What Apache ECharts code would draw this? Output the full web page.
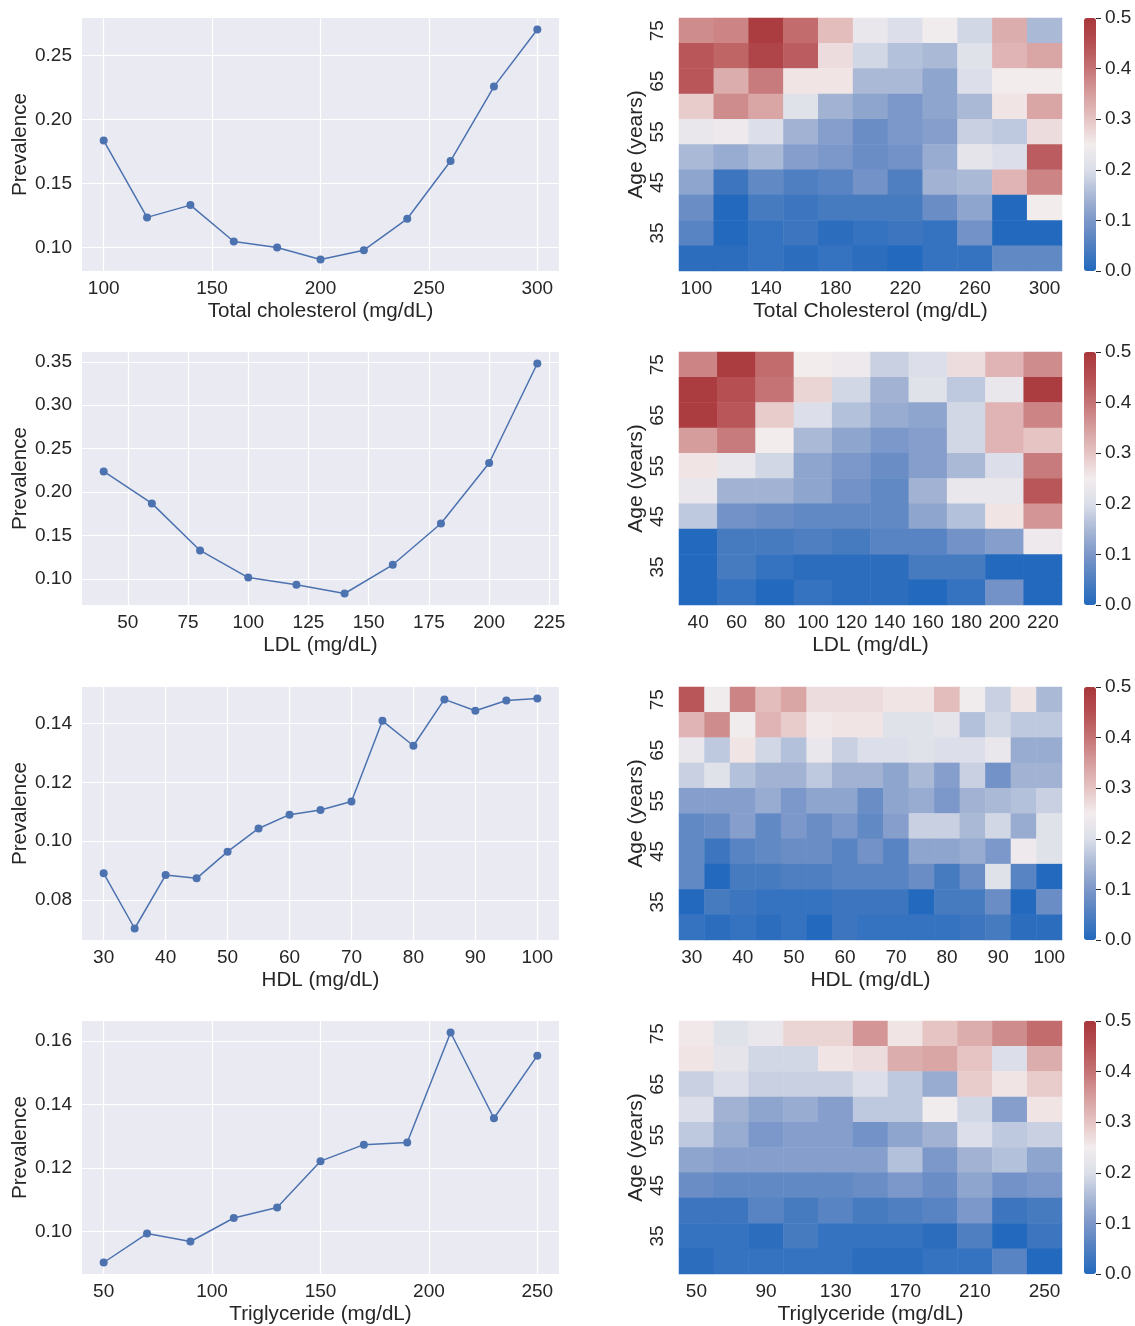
<!DOCTYPE html>
<html>
<head>
<meta charset="utf-8">
<script src="https://cdn.jsdelivr.net/npm/echarts@6/dist/echarts.min.js"></script>
<style>
  html, body { margin: 0; padding: 0; background: #fff; }
  #main { width: 1135px; height: 1326px; }
</style>
</head>
<body>
<div id="main"></div>
<script>
// ---- line charts: prevalence by lipid level ----
var tcX = [100, 120, 140, 160, 180, 200, 220, 240, 260, 280, 300]
var tcPrev = [0.1835, 0.1235, 0.1331, 0.1047, 0.1000, 0.0906, 0.0979, 0.1224, 0.1676, 0.2257, 0.2703]
var tcXTicks = [100, 150, 200, 250, 300]
var tcYTicks = [0.10, 0.15, 0.20, 0.25]

var ldlX = [40, 60, 80, 100, 120, 140, 160, 180, 200, 220]
var ldlPrev = [0.2238, 0.1869, 0.1327, 0.1015, 0.0931, 0.0831, 0.1162, 0.1638, 0.2335, 0.3481]
var ldlXTicks = [50, 75, 100, 125, 150, 175, 200, 225]
var ldlYTicks = [0.10, 0.15, 0.20, 0.25, 0.30, 0.35]

var hdlX = [30, 35, 40, 45, 50, 55, 60, 65, 70, 75, 80, 85, 90, 95, 100]
var hdlPrev = [0.0890, 0.0702, 0.0884, 0.0873, 0.0964, 0.1043, 0.1090, 0.1106, 0.1135, 0.1410, 0.1325, 0.1483, 0.1444, 0.1479, 0.1486]
var hdlXTicks = [30, 40, 50, 60, 70, 80, 90, 100]
var hdlYTicks = [0.08, 0.10, 0.12, 0.14]

var tgX = [50, 70, 90, 110, 130, 150, 170, 190, 210, 230, 250]
var tgPrev = [0.0903, 0.0994, 0.0969, 0.1043, 0.1076, 0.1222, 0.1274, 0.1281, 0.1627, 0.1357, 0.1554]
var tgXTicks = [50, 100, 150, 200, 250]
var tgYTicks = [0.10, 0.12, 0.14, 0.16]

// ---- heatmaps: prevalence by age (rows, top = 75) x lipid bin ----
var ages = ['75', '70', '65', '60', '55', '50', '45', '40', '35', '30']

var tcBins = ['100', '120', '140', '160', '180', '200', '220', '240', '260', '280', '300']
var tcHeat = [
  [0.37, 0.38, 0.49, 0.41, 0.31, 0.23, 0.20, 0.245, 0.19, 0.33, 0.15],
  [0.44, 0.42, 0.47, 0.43, 0.27, 0.19, 0.16, 0.15, 0.21, 0.32, 0.34],
  [0.44, 0.33, 0.39, 0.26, 0.26, 0.15, 0.15, 0.12, 0.20, 0.25, 0.25],
  [0.29, 0.37, 0.34, 0.21, 0.14, 0.12, 0.10, 0.12, 0.15, 0.26, 0.34],
  [0.23, 0.24, 0.20, 0.14, 0.11, 0.08, 0.10, 0.11, 0.18, 0.17, 0.27],
  [0.15, 0.13, 0.15, 0.11, 0.10, 0.08, 0.09, 0.13, 0.22, 0.20, 0.43],
  [0.12, 0.03, 0.07, 0.05, 0.06, 0.09, 0.05, 0.14, 0.15, 0.32, 0.38],
  [0.08, 0.00, 0.04, 0.03, 0.04, 0.04, 0.04, 0.08, 0.12, 0.00, 0.25],
  [0.06, 0.00, 0.02, 0.03, 0.01, 0.02, 0.03, 0.02, 0.09, 0.00, 0.00],
  [0.01, 0.01, 0.02, 0.01, 0.02, 0.01, 0.00, 0.02, 0.02, 0.07, 0.07]
]

var ldlBins = ['40', '60', '80', '100', '120', '140', '160', '180', '200', '220']
var ldlHeat = [
  [0.38, 0.49, 0.41, 0.25, 0.24, 0.18, 0.20, 0.27, 0.32, 0.37],
  [0.49, 0.45, 0.40, 0.28, 0.19, 0.14, 0.21, 0.17, 0.23, 0.49],
  [0.49, 0.44, 0.29, 0.20, 0.16, 0.13, 0.12, 0.19, 0.32, 0.38],
  [0.35, 0.39, 0.25, 0.15, 0.12, 0.10, 0.11, 0.19, 0.32, 0.30],
  [0.26, 0.23, 0.19, 0.12, 0.10, 0.08, 0.11, 0.15, 0.20, 0.39],
  [0.23, 0.14, 0.14, 0.12, 0.09, 0.07, 0.14, 0.23, 0.23, 0.44],
  [0.17, 0.09, 0.08, 0.07, 0.07, 0.07, 0.12, 0.16, 0.26, 0.36],
  [0.00, 0.04, 0.04, 0.05, 0.04, 0.06, 0.06, 0.09, 0.11, 0.24],
  [0.00, 0.04, 0.02, 0.01, 0.01, 0.01, 0.04, 0.04, 0.00, 0.00],
  [0.00, 0.02, 0.00, 0.02, 0.01, 0.01, 0.00, 0.02, 0.09, 0.00]
]

var hdlBins = ['30', '35', '40', '45', '50', '55', '60', '65', '70', '75', '80', '85', '90', '95', '100']
var hdlHeat = [
  [0.44, 0.245, 0.38, 0.31, 0.34, 0.27, 0.27, 0.27, 0.26, 0.26, 0.31, 0.245, 0.18, 0.26, 0.15],
  [0.32, 0.37, 0.245, 0.32, 0.29, 0.255, 0.26, 0.26, 0.21, 0.21, 0.22, 0.16, 0.19, 0.17, 0.17],
  [0.23, 0.17, 0.26, 0.19, 0.16, 0.23, 0.18, 0.20, 0.20, 0.21, 0.20, 0.20, 0.23, 0.13, 0.13],
  [0.18, 0.21, 0.16, 0.14, 0.14, 0.17, 0.14, 0.14, 0.12, 0.15, 0.11, 0.18, 0.09, 0.14, 0.14],
  [0.11, 0.11, 0.11, 0.13, 0.10, 0.12, 0.12, 0.08, 0.12, 0.13, 0.10, 0.14, 0.15, 0.16, 0.18],
  [0.07, 0.08, 0.11, 0.07, 0.10, 0.08, 0.10, 0.07, 0.11, 0.18, 0.18, 0.15, 0.19, 0.13, 0.21],
  [0.07, 0.03, 0.06, 0.07, 0.08, 0.08, 0.06, 0.09, 0.06, 0.12, 0.12, 0.13, 0.10, 0.24, 0.21],
  [0.07, 0.00, 0.04, 0.04, 0.05, 0.05, 0.06, 0.06, 0.06, 0.08, 0.04, 0.08, 0.21, 0.06, 0.00],
  [0.00, 0.04, 0.03, 0.02, 0.02, 0.02, 0.03, 0.03, 0.03, 0.00, 0.04, 0.04, 0.08, 0.00, 0.08],
  [0.02, 0.01, 0.02, 0.01, 0.02, 0.00, 0.03, 0.02, 0.02, 0.02, 0.02, 0.03, 0.04, 0.01, 0.01]
]

var tgBins = ['50', '70', '90', '110', '130', '150', '170', '190', '210', '230', '250']
var tgHeat = [
  [0.255, 0.21, 0.23, 0.28, 0.28, 0.36, 0.26, 0.30, 0.33, 0.37, 0.41],
  [0.26, 0.22, 0.19, 0.19, 0.26, 0.27, 0.33, 0.34, 0.30, 0.20, 0.33],
  [0.18, 0.20, 0.18, 0.18, 0.18, 0.20, 0.17, 0.13, 0.29, 0.26, 0.29],
  [0.20, 0.14, 0.12, 0.13, 0.11, 0.17, 0.17, 0.245, 0.19, 0.11, 0.26],
  [0.17, 0.13, 0.10, 0.11, 0.11, 0.09, 0.12, 0.14, 0.20, 0.17, 0.18],
  [0.12, 0.11, 0.11, 0.11, 0.11, 0.11, 0.16, 0.10, 0.14, 0.16, 0.12],
  [0.08, 0.07, 0.07, 0.07, 0.07, 0.08, 0.10, 0.08, 0.12, 0.09, 0.10],
  [0.03, 0.03, 0.06, 0.04, 0.06, 0.04, 0.05, 0.06, 0.10, 0.03, 0.04],
  [0.02, 0.02, 0.01, 0.04, 0.02, 0.02, 0.02, 0.01, 0.05, 0.00, 0.03],
  [0.01, 0.02, 0.02, 0.02, 0.02, 0.01, 0.01, 0.02, 0.02, 0.06, 0.00]
]

var cbTicks = [0, 0.1, 0.2, 0.3, 0.4, 0.5]

// ---- layout / style ----
var FONT = '"Liberation Sans", Arial, sans-serif'
var TXT = '#262626'
var rowTops = [18, 352, 687, 1021]
var plotH = 253
var vlag = ['#2369bd', '#4f7fc1', '#7c97c9', '#aab9d6', '#dcdfe9', '#f2eced', '#e6c4c4', '#d69d9d', '#c57374', '#b54f52', '#a9373b']

var panels = [
  { x: tcX, y: tcPrev, xt: tcXTicks, yt: tcYTicks, name: 'Total cholesterol (mg/dL)',
    bins: tcBins, heat: tcHeat, hname: 'Total Cholesterol (mg/dL)', every: 2 },
  { x: ldlX, y: ldlPrev, xt: ldlXTicks, yt: ldlYTicks, name: 'LDL (mg/dL)',
    bins: ldlBins, heat: ldlHeat, hname: 'LDL (mg/dL)', every: 1 },
  { x: hdlX, y: hdlPrev, xt: hdlXTicks, yt: hdlYTicks, name: 'HDL (mg/dL)',
    bins: hdlBins, heat: hdlHeat, hname: 'HDL (mg/dL)', every: 2 },
  { x: tgX, y: tgPrev, xt: tgXTicks, yt: tgYTicks, name: 'Triglyceride (mg/dL)',
    bins: tgBins, heat: tgHeat, hname: 'Triglyceride (mg/dL)', every: 2 }
]

// matplotlib-style 5% autoscale margin
function pad(arr) {
  var lo = Math.min.apply(null, arr), hi = Math.max.apply(null, arr)
  var m = (hi - lo) * 0.05
  return [lo - m, hi + m]
}

var grid = [], xAxis = [], yAxis = [], series = [], visualMap = []

panels.forEach(function (p, k) {
  var top = rowTops[k]
  var xr = pad(p.x), yr = pad(p.y)
  var g0 = grid.length

  // line chart
  grid.push({ left: 82, top: top, width: 477, height: plotH, show: true,
    backgroundColor: '#eaeaf2', borderWidth: 0 })
  xAxis.push({
    type: 'value', gridIndex: g0, min: xr[0], max: xr[1],
    name: p.name, nameLocation: 'middle', nameGap: 30,
    nameTextStyle: { fontFamily: FONT, fontSize: 20.6, color: TXT },
    axisLine: { show: false },
    axisTick: { show: false, customValues: p.xt },
    axisLabel: { customValues: p.xt, fontFamily: FONT, fontSize: 19, color: TXT, margin: 8 },
    splitLine: { show: true, lineStyle: { color: '#ffffff', width: 1.2 } }
  })
  yAxis.push({
    type: 'value', gridIndex: g0, min: yr[0], max: yr[1],
    name: 'Prevalence', nameLocation: 'middle', nameGap: 50, nameRotate: 90,
    nameTextStyle: { fontFamily: FONT, fontSize: 20.6, color: TXT },
    axisLine: { show: false },
    axisTick: { show: false, customValues: p.yt },
    axisLabel: { customValues: p.yt, fontFamily: FONT, fontSize: 19, color: TXT, margin: 10,
      formatter: function (v) { return v.toFixed(2) } },
    splitLine: { show: true, lineStyle: { color: '#ffffff', width: 1.2 } }
  })
  series.push({
    type: 'line', xAxisIndex: g0, yAxisIndex: g0,
    data: p.x.map(function (v, i) { return [v, p.y[i]] }),
    symbol: 'circle', symbolSize: 8, color: '#4c72b0',
    lineStyle: { width: 1.5, color: '#4c72b0' },
    itemStyle: { color: '#4c72b0' }
  })

  // heatmap
  var g1 = grid.length
  grid.push({ left: 679, top: top, width: 383, height: plotH })
  var every = p.every
  xAxis.push({
    type: 'category', gridIndex: g1, data: p.bins,
    name: p.hname, nameLocation: 'middle', nameGap: 30,
    nameTextStyle: { fontFamily: FONT, fontSize: 21, color: TXT },
    axisLine: { show: false }, axisTick: { show: false }, splitLine: { show: false },
    axisLabel: { fontFamily: FONT, fontSize: 19, color: TXT, margin: 8,
      interval: function (i) { return i % every === 0 } }
  })
  yAxis.push({
    type: 'category', gridIndex: g1, data: ages, inverse: true,
    name: 'Age (years)', nameLocation: 'middle', nameGap: 31, nameRotate: 90,
    nameTextStyle: { fontFamily: FONT, fontSize: 21, color: TXT },
    axisLine: { show: false }, axisTick: { show: false }, splitLine: { show: false },
    axisLabel: { fontFamily: FONT, fontSize: 19, color: TXT, margin: 12, rotate: 90,
      interval: function (i, v) { return Number(v) % 10 === 5 } }
  })
  var cells = []
  p.heat.forEach(function (row, i) {
    row.forEach(function (v, j) { cells.push([j, i, v]) })
  })
  var si = series.length
  series.push({ type: 'heatmap', xAxisIndex: g1, yAxisIndex: g1, data: cells,
    itemStyle: { borderWidth: 0 } })
  visualMap.push({
    type: 'continuous', seriesIndex: si, min: 0, max: 0.5, calculable: false,
    orient: 'vertical', left: 1084, top: top, itemWidth: 12, itemHeight: plotH,
    padding: 0, text: null, inRange: { color: vlag }, hoverLink: false
  })

  // colorbar ticks
  var g2 = grid.length
  grid.push({ left: 1084, top: top, width: 12, height: plotH })
  xAxis.push({ type: 'category', gridIndex: g2, data: [''], show: false })
  yAxis.push({
    type: 'value', gridIndex: g2, position: 'right', min: 0, max: 0.5,
    axisLine: { show: false },
    axisTick: { show: true, length: 5, customValues: cbTicks, lineStyle: { color: TXT, width: 1 } },
    splitLine: { show: false },
    axisLabel: { customValues: cbTicks, fontFamily: FONT, fontSize: 19, color: TXT, margin: 9,
      formatter: function (v) { return v.toFixed(1) } }
  })
})

var chart = echarts.init(document.getElementById('main'))
chart.setOption({
  backgroundColor: '#ffffff',
  animation: false,
  grid: grid,
  xAxis: xAxis,
  yAxis: yAxis,
  visualMap: visualMap,
  series: series
})
</script>
</body>
</html>
